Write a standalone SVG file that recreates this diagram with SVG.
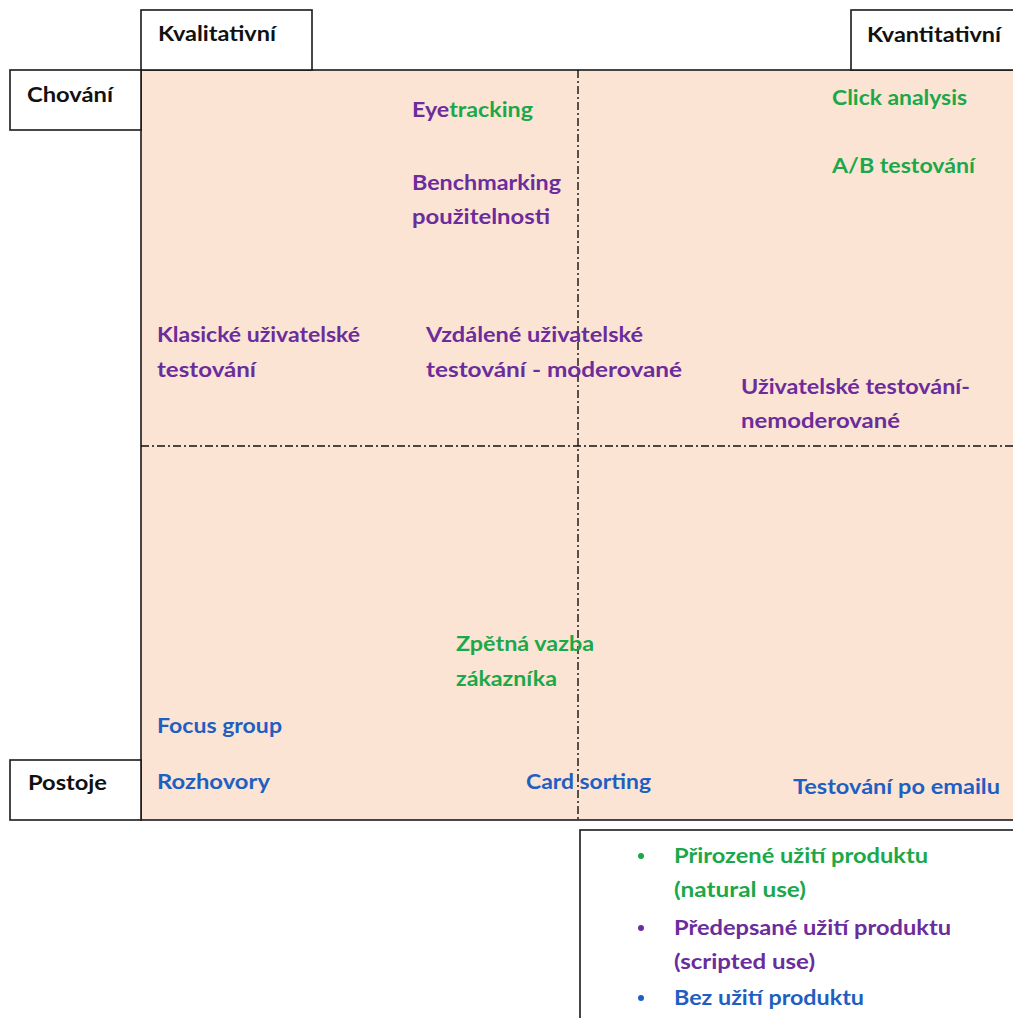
<svg xmlns="http://www.w3.org/2000/svg" width="1013" height="1018" viewBox="0 0 1013 1018">
  <style>
    text { font-family: Lato, "Liberation Sans", sans-serif; font-weight: bold; font-size: 21px; }
    .k { fill: #111111; }
    .g { fill: #1BA84A; }
    .p { fill: #6B2C9C; }
    .b { fill: #1F5FC2; }
    .box { fill: #FFFFFF; stroke: #1a1a1a; stroke-width: 1.6; }
    .axis { fill: none; stroke: #111111; stroke-width: 1.4; stroke-dasharray: 8 3 2 3; }
  </style>

  <rect width="1013" height="1018" fill="#FFFFFF"/>

  <!-- quadrant field -->
  <g id="field">
    <rect x="141" y="70" width="880" height="750" fill="#FCE4D4" stroke="#1a1a1a" stroke-width="1.6"/>
  </g>

  <!-- axis headers -->
  <g id="hdr-kvalitativni">
    <rect class="box" x="141" y="10" width="171" height="60"/>
    <text class="k" x="158" y="41" textLength="118" lengthAdjust="spacingAndGlyphs">Kvalitativní</text>
  </g>
  <g id="hdr-kvantitativni">
    <rect class="box" x="851" y="10" width="170" height="60"/>
    <text class="k" x="867" y="42" textLength="134" lengthAdjust="spacingAndGlyphs">Kvantitativní</text>
  </g>
  <g id="hdr-chovani">
    <rect class="box" x="10" y="70" width="131" height="60"/>
    <text class="k" x="27" y="102" textLength="86" lengthAdjust="spacingAndGlyphs">Chování</text>
  </g>
  <g id="hdr-postoje">
    <rect class="box" x="10" y="760" width="131" height="60"/>
    <text class="k" x="28" y="790" textLength="79" lengthAdjust="spacingAndGlyphs">Postoje</text>
  </g>

  <!-- quadrant dividers -->
  <g id="connectors">
    <line class="axis" x1="578" y1="70" x2="578" y2="820"/>
    <line class="axis" x1="141" y1="446" x2="1013" y2="446"/>
  </g>

  <!-- methods -->
  <g id="eyetracking">
    <text x="412" y="117" textLength="121" lengthAdjust="spacingAndGlyphs"><tspan class="p">Eye</tspan><tspan class="g">tracking</tspan></text>
  </g>
  <g id="benchmarking">
    <text class="p" x="412" y="190" textLength="149" lengthAdjust="spacingAndGlyphs">Benchmarking</text>
    <text class="p" x="412" y="224" textLength="138" lengthAdjust="spacingAndGlyphs">použitelnosti</text>
  </g>
  <g id="click-analysis">
    <text class="g" x="832" y="105" textLength="135" lengthAdjust="spacingAndGlyphs">Click analysis</text>
  </g>
  <g id="ab-testovani">
    <text class="g" x="832" y="173" textLength="143" lengthAdjust="spacingAndGlyphs">A/B testování</text>
  </g>
  <g id="klasicke">
    <text class="p" x="157" y="342" textLength="203" lengthAdjust="spacingAndGlyphs">Klasické uživatelské</text>
    <text class="p" x="157" y="377" textLength="99" lengthAdjust="spacingAndGlyphs">testování</text>
  </g>
  <g id="vzdalene">
    <text class="p" x="426" y="342" textLength="217" lengthAdjust="spacingAndGlyphs">Vzdálené uživatelské</text>
    <text class="p" x="426" y="377" textLength="256" lengthAdjust="spacingAndGlyphs">testování - moderované</text>
  </g>
  <g id="nemoderovane">
    <text class="p" x="741" y="394" textLength="229" lengthAdjust="spacingAndGlyphs">Uživatelské testování-</text>
    <text class="p" x="741" y="428" textLength="159" lengthAdjust="spacingAndGlyphs">nemoderované</text>
  </g>
  <g id="zpetna-vazba">
    <text class="g" x="456" y="651" textLength="138" lengthAdjust="spacingAndGlyphs">Zpětná vazba</text>
    <text class="g" x="456" y="686" textLength="101" lengthAdjust="spacingAndGlyphs">zákazníka</text>
  </g>
  <g id="focus-group">
    <text class="b" x="157" y="733" textLength="125" lengthAdjust="spacingAndGlyphs">Focus group</text>
  </g>
  <g id="rozhovory">
    <text class="b" x="157" y="789" textLength="113" lengthAdjust="spacingAndGlyphs">Rozhovory</text>
  </g>
  <g id="card-sorting">
    <text class="b" x="526" y="789" textLength="125" lengthAdjust="spacingAndGlyphs">Card sorting</text>
  </g>
  <g id="testovani-emailu">
    <text class="b" x="793" y="794" textLength="207" lengthAdjust="spacingAndGlyphs">Testování po emailu</text>
  </g>

  <!-- legend -->
  <g id="legend">
    <rect class="box" x="580" y="830" width="441" height="200"/>
    <circle class="g" cx="641" cy="856" r="3"/>
    <text class="g" x="674" y="863" textLength="254" lengthAdjust="spacingAndGlyphs">Přirozené užití produktu</text>
    <text class="g" x="674" y="897" textLength="132" lengthAdjust="spacingAndGlyphs">(natural use)</text>
    <circle class="p" cx="641" cy="928" r="3"/>
    <text class="p" x="674" y="935" textLength="277" lengthAdjust="spacingAndGlyphs">Předepsané užití produktu</text>
    <text class="p" x="674" y="969" textLength="141" lengthAdjust="spacingAndGlyphs">(scripted use)</text>
    <circle class="b" cx="641" cy="998" r="3"/>
    <text class="b" x="674" y="1005" textLength="190" lengthAdjust="spacingAndGlyphs">Bez užití produktu</text>
  </g>
</svg>
